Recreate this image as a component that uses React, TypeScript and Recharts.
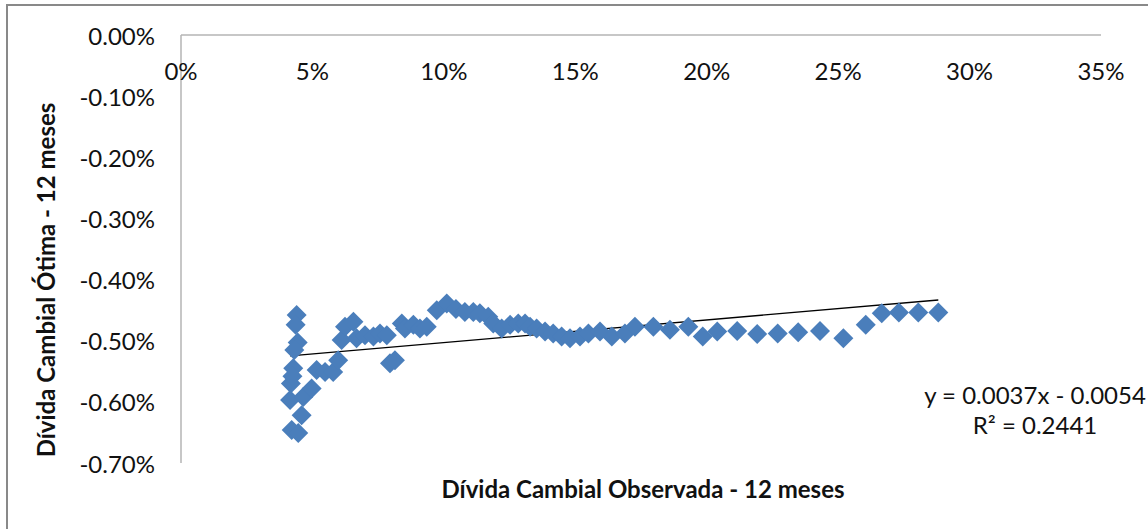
import React from "react";
import { ScatterChart, Scatter, XAxis, YAxis, ReferenceLine } from "recharts";

// Dívida Cambial Observada (x, %) and Dívida Cambial Ótima (y, %) - 12 meses
const observada = [
  4.40, 4.36, 4.44, 4.31, 4.27, 4.18, 4.15, 4.59, 4.21, 4.46, 4.24,
  4.65, 4.97, 5.16, 5.48, 5.79, 5.98, 6.11, 6.24, 6.56, 6.68, 7.00,
  7.32, 7.57, 7.83, 7.95, 8.14, 8.40, 8.52, 8.84, 9.09, 9.35, 9.73,
  10.11, 10.46, 10.80, 11.12, 11.37, 11.69, 11.88, 12.20, 12.52, 12.83,
  13.09, 13.28, 13.53, 13.85, 14.16, 14.48, 14.80, 15.18, 15.50, 15.94,
  16.39, 16.89, 17.27, 17.97, 18.60, 19.30, 19.85, 20.40, 21.16, 21.92,
  22.70, 23.48, 24.31, 25.20, 26.05, 26.66, 27.31, 28.05, 28.81,
];
const otima = [
  -0.458, -0.474, -0.503, -0.515, -0.545, -0.570, -0.597, -0.622, -0.646, -0.651, -0.558,
  -0.592, -0.578, -0.548, -0.551, -0.551, -0.532, -0.499, -0.477, -0.469, -0.496, -0.491,
  -0.493, -0.488, -0.491, -0.537, -0.532, -0.472, -0.480, -0.474, -0.480, -0.477, -0.450,
  -0.439, -0.448, -0.453, -0.453, -0.455, -0.461, -0.472, -0.480, -0.474, -0.472,
  -0.472, -0.477, -0.480, -0.485, -0.488, -0.493, -0.496, -0.493, -0.488, -0.485,
  -0.493, -0.488, -0.477, -0.477, -0.482, -0.477, -0.493, -0.485, -0.484, -0.489,
  -0.488, -0.486, -0.484, -0.496, -0.474, -0.455, -0.454, -0.454, -0.454,
];

const xTicks = [0, 5, 10, 15, 20, 25, 30, 35];
const yTicks = [0, -0.1, -0.2, -0.3, -0.4, -0.5, -0.6, -0.7];

// Trendline (Excel linear fit, fraction units)
const TREND_SLOPE = 0.0037;
const TREND_INTERCEPT = -0.0054;
const equationText = "y = 0.0037x - 0.0054";
const r2Text = "R² = 0.2441";

const xTitle = "Dívida Cambial Observada - 12 meses";
const yTitle = "Dívida Cambial Ótima - 12 meses";

const data = observada.map((x, i) => ({ x, y: otima[i] }));
const xMin = Math.min(...observada);
const xMax = Math.max(...observada);
const trendAt = (x: number) => TREND_SLOPE * x + TREND_INTERCEPT * 100;

const FONT = "Lato, 'Open Sans', sans-serif";
const BLUE = "#4a7ebb";

const Diamond = (props: any) => {
  const { cx, cy } = props;
  const r = 10;
  return (
    <path
      d={`M${cx},${cy - r}L${cx + r},${cy}L${cx},${cy + r}L${cx - r},${cy}Z`}
      fill={BLUE}
      stroke="none"
    />
  );
};

const XTick = (props: any) => {
  const { x, y, payload } = props;
  return (
    <text
      x={x}
      y={y + 35}
      textAnchor="middle"
      dominantBaseline="central"
      fontFamily={FONT}
      fontSize={24}
      fill="#111"
    >
      {`${payload.value}%`}
    </text>
  );
};

const YTick = (props: any) => {
  const { x, y, payload } = props;
  return (
    <text
      x={x}
      y={y}
      textAnchor="end"
      dominantBaseline="central"
      fontFamily={FONT}
      fontSize={24}
      fill="#111"
    >
      {`${Number(payload.value).toFixed(2)}%`}
    </text>
  );
};

export default function App() {
  return (
    <div style={{ position: "absolute", left: 0, top: 0, width: 1148, height: 529, background: "#fff", overflow: "hidden" }}>
      <ScatterChart
        width={1148}
        height={529}
        margin={{ top: 5, right: 47, bottom: 66, left: 121 }}
      >
        <XAxis
          type="number"
          dataKey="x"
          orientation="top"
          domain={[0, 35]}
          ticks={xTicks}
          height={30}
          tickSize={0}
          tickMargin={0}
          tickLine={false}
          axisLine={{ stroke: "#b5b5b5", strokeWidth: 1.5 }}
          tick={<XTick />}
          allowDataOverflow
        />
        <YAxis
          type="number"
          dataKey="y"
          domain={[-0.7, 0]}
          ticks={yTicks}
          width={60}
          tickSize={0}
          tickMargin={26}
          tickLine={false}
          axisLine={{ stroke: "#b5b5b5", strokeWidth: 1.5 }}
          tick={<YTick />}
          allowDataOverflow
        />
        <Scatter data={data} shape={<Diamond />} isAnimationActive={false} />
        <ReferenceLine
          segment={[
            { x: xMin, y: trendAt(xMin) },
            { x: xMax, y: trendAt(xMax) },
          ]}
          stroke="#000"
          strokeWidth={1.3}
          ifOverflow="visible"
        />
      </ScatterChart>
      <svg
        width={1148}
        height={529}
        style={{ position: "absolute", left: 0, top: 0, pointerEvents: "none" }}
      >
        <rect x={7} y={5} width={1200} height={600} fill="none" stroke="#898989" strokeWidth={2} />
        <text
          x={643}
          y={488}
          textAnchor="middle"
          dominantBaseline="central"
          fontFamily={FONT}
          fontWeight="bold"
          fontSize={24}
          fill="#111"
        >
          {xTitle}
        </text>
        <text
          x={45}
          y={280}
          textAnchor="middle"
          dominantBaseline="central"
          fontFamily={FONT}
          fontWeight="bold"
          fontSize={24}
          fill="#111"
          transform="rotate(-90 45 280)"
        >
          {yTitle}
        </text>
        <text x={1035} y={394} textAnchor="middle" dominantBaseline="central" fontFamily={FONT} fontSize={24} fill="#111">
          {equationText}
        </text>
        <text x={1035} y={424} textAnchor="middle" dominantBaseline="central" fontFamily={FONT} fontSize={24} fill="#111">
          {r2Text}
        </text>
      </svg>
    </div>
  );
}
